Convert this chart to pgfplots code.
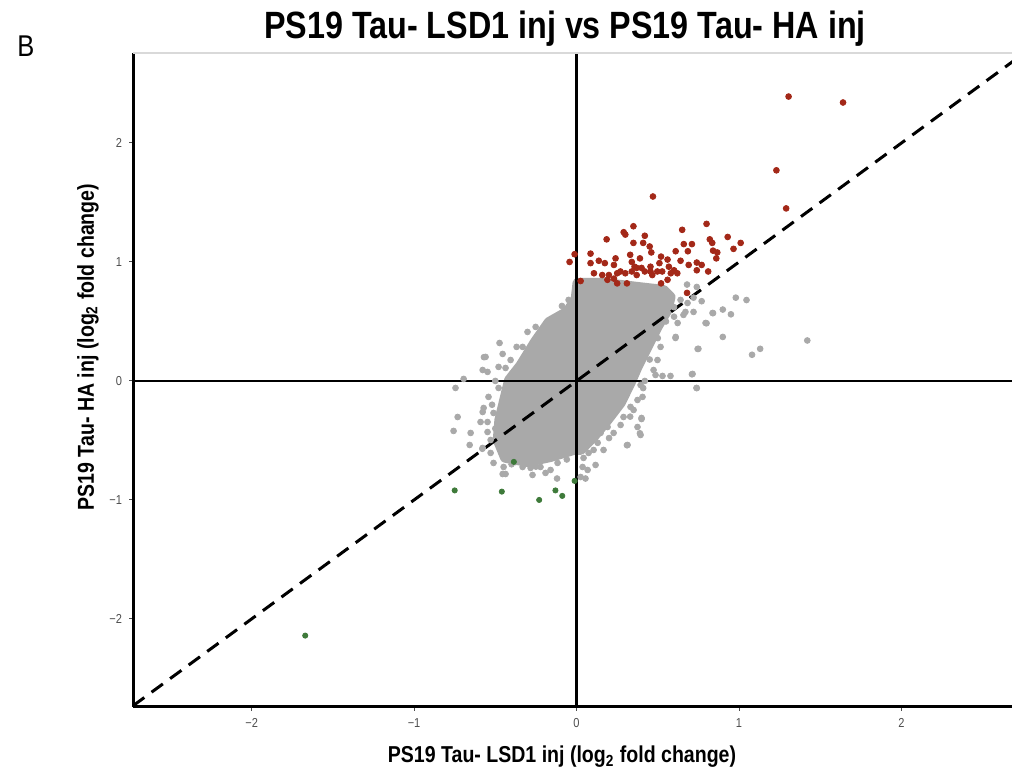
\documentclass[border=0pt]{standalone}
\usepackage{fontspec}
\setmainfont{Liberation Sans}
\newfontfamily\narrow[FakeStretch=0.85]{Liberation Sans}
\usepackage{pgfplots}
\pgfplotsset{compat=1.18}

\definecolor{ptgray}{RGB}{169,169,169}
\definecolor{ptred}{RGB}{163,40,24}
\definecolor{ptgreen}{RGB}{62,122,58}
\definecolor{ticklab}{RGB}{77,77,77}

\begin{document}
\begin{tikzpicture}
\path[use as bounding box] (0,0) rectangle (506pt,385pt);
\begin{axis}[
    at={(66.5pt,31.5pt)}, anchor=south west,
    scale only axis, width=439.5pt, height=327pt,
    xmin=-2.73, xmax=2.68, ymin=-2.74, ymax=2.756,
    axis lines*=left,
    axis line style={line width=1.5pt, black},
    xtick={-2,-1,0,1,2}, xticklabels={−2,−1,0,1,2},
    ytick={-2,-1,0,1,2}, yticklabels={−2,−1,0,1,2},
    tick align=outside, major tick length=2pt,
    tick style={ticklab, line width=0.5pt},
    ticklabel style={font=\narrow\fontsize{6.5}{7}\selectfont, text=ticklab},
    /pgf/number format/assume math mode=true,
    clip=true,
]
% dense core of the cloud
\addplot[fill=ptgray, draw=ptgray, line width=5pt, line join=round] coordinates {
  (0.006,0.824) (0.166,0.824) (0.375,0.790) (0.535,0.765) (0.578,0.706)
  (0.560,0.597) (0.498,0.454) (0.437,0.286) (0.375,0.118) (0.332,-0.017)
  (0.271,-0.185) (0.191,-0.328) (0.105,-0.471) (0.025,-0.580) (-0.018,-0.580)
  (-0.160,-0.639) (-0.302,-0.681) (-0.440,-0.645) (-0.485,-0.496)
  (-0.475,-0.328) (-0.445,-0.160) (-0.415,0.008) (-0.345,0.130)
  (-0.255,0.330) (-0.170,0.495) (-0.060,0.580) (-0.006,0.681)
} -- cycle;
% scattered genes
\addplot[only marks, mark=*, mark size=1.45pt, mark options={ptgray, line width=0.4pt}] coordinates {
  (0.98,0.70) (1.046,0.68) (0.90,0.60) (0.84,0.57) (0.95,0.56) (0.80,0.485)
  (0.90,0.37) (0.75,0.27) (1.13,0.27) (1.08,0.22) (1.42,0.34) (0.71,0.056)
  (0.74,-0.06) (0.77,0.67) (0.72,0.70) (0.67,0.58)
  (0.74,0.79) (0.68,0.81) (0.60,0.54) (0.61,0.37)
  (-0.57,0.20) (-0.58,-0.57) (-0.41,-0.66) (-0.12,-0.82) (0.055,-0.82)
  (0.31,-0.54) (0.39,-0.44) (0.40,-0.32) (0.41,-0.06)
  (-0.049,0.681) (-0.160,0.513) (-0.302,0.412) (-0.252,0.454) (-0.332,0.286)
  (-0.369,0.286) (-0.474,0.319) (-0.455,0.227) (-0.560,0.202) (-0.578,0.092)
  (-0.548,0.076) (-0.480,0.118) (-0.437,0.109) (-0.406,0.176) (-0.695,0.017)
  (-0.745,-0.059) (-0.480,-0.059) (-0.449,-0.134) (-0.542,-0.134)
  (-0.572,-0.227) (-0.578,-0.261) (-0.511,-0.269) (-0.732,-0.303)
  (-0.591,-0.345) (-0.548,-0.345) (-0.757,-0.420) (-0.652,-0.437)
  (-0.548,-0.429) (-0.529,-0.496) (-0.658,-0.538) (-0.578,-0.563)
  (-0.529,-0.605) (-0.511,-0.689) (-0.449,-0.723) (-0.375,-0.681)
  (-0.332,-0.723) (-0.283,-0.731) (-0.222,-0.723) (-0.160,-0.748)
  (-0.271,-0.790) (-0.191,-0.773) (-0.455,-0.782) (-0.437,-0.782)
  (-0.117,-0.689)
  (0.640,0.681) (0.683,0.655) (0.658,0.555) (0.622,0.487) (0.720,0.580)
  (0.794,0.487) (0.837,0.571) (0.609,0.361) (0.517,0.286) (0.745,0.269)
  (0.498,0.176) (0.474,0.092) (0.578,0.042) (0.529,0.042) (0.486,0.050)
  (0.714,0.059) (0.738,-0.059) (0.394,-0.034) (0.406,-0.134) (0.375,-0.160)
  (0.332,-0.218) (0.351,-0.244) (0.400,-0.311) (0.375,-0.387) (0.394,-0.454)
  (0.289,-0.303) (0.271,-0.370) (0.228,-0.437) (0.191,-0.387) (0.314,-0.538)
  (0.148,-0.437) (0.086,-0.496) (0.105,-0.580) (0.166,-0.580) (0.074,-0.605)
  (0.043,-0.647) (0.117,-0.706) (0.037,-0.723) (0.068,-0.748) (0.025,-0.807)
  (-0.50,0.00) (-0.52,-0.20) (-0.50,-0.40) (-0.40,-0.70) (-0.25,-0.72)
  (0.45,0.18) (0.42,0.00) (0.33,-0.30) (0.20,-0.48) (-0.20,0.40) (-0.30,0.22)
  (0.60,0.62) (0.55,0.50) (0.50,0.36) (-0.09,0.63) (-0.06,-0.66) (0.13,-0.52)
};
% up in HA
\addplot[only marks, mark=*, mark size=1.45pt, mark options={ptred, line width=0.4pt}] coordinates {
  (1.305,2.39) (1.64,2.34) (1.23,1.77) (1.29,1.45) (0.47,1.55)
  (0.80,1.32) (0.65,1.27) (0.35,1.30) (0.29,1.25) (0.30,1.23) (0.185,1.19)
  (0.42,1.22) (0.35,1.16) (0.41,1.16) (0.45,1.13) (0.66,1.15) (0.71,1.15)
  (0.82,1.19) (0.835,1.16) (0.93,1.21) (1.01,1.16) (0.966,1.11)
  (0.84,1.095) (0.866,1.08) (0.86,1.03) (0.61,1.09) (0.685,1.09)
  (0.46,1.08) (0.52,1.045) (0.086,1.07) (-0.012,1.065) (-0.043,1.00)
  (0.33,1.06) (0.39,1.03) (0.086,0.99) (0.137,1.01) (0.174,0.99) (0.24,1.03)
  (0.23,0.975) (0.34,1.00) (0.357,0.96) (0.37,0.95) (0.40,0.95)
  (0.455,0.96) (0.51,0.99) (0.56,1.02) (0.64,1.01) (0.69,0.975) (0.74,0.995)
  (0.77,0.975) (0.74,0.93) (0.81,0.92)
  (0.107,0.905) (0.158,0.89) (0.199,0.89) (0.23,0.86) (0.25,0.905) (0.27,0.92)
  (0.30,0.905) (0.34,0.92) (0.37,0.89) (0.42,0.92) (0.455,0.92) (0.466,0.89)
  (0.497,0.92) (0.527,0.92) (0.568,0.96) (0.60,0.93) (0.58,0.905) (0.62,0.905)
  (0.025,0.84) (0.19,0.85) (0.25,0.82) (0.31,0.82) (0.52,0.82) (0.56,0.85)
  (0.68,0.74)
};
% down in HA
\addplot[only marks, mark=*, mark size=1.3pt, mark options={ptgreen, line width=0.4pt}] coordinates {
  (-0.75,-0.92) (-0.46,-0.93) (-0.23,-1.00) (-0.13,-0.92) (-0.088,-0.966)
  (-0.012,-0.84) (-0.386,-0.68) (-1.67,-2.14)
};
% reference lines
\addplot[black, line width=1.2pt] coordinates {(-3,0) (3,0)};
\addplot[black, line width=1.2pt] coordinates {(0,-3) (0,3)};
\addplot[black, line width=1.5pt, dash pattern=on 7pt off 4.5pt] coordinates {(-2.73,-2.73) (2.76,2.76)};
\draw[black!15, line width=0.8pt] (rel axis cs:0,1) -- (rel axis cs:1,1);
\end{axis}
\node[font=\narrow\bfseries\fontsize{19}{22}\selectfont] at (282.5pt,370.5pt) {PS19 Tau- LSD1 inj vs PS19 Tau- HA inj};
\node[font=\narrow\fontsize{15}{17}\selectfont] at (13pt,362pt) {B};
\node[font=\narrow\bfseries\fontsize{11.5}{13}\selectfont] at (281pt,6.5pt) {PS19 Tau- LSD1 inj (log\textsubscript{2} fold change)};
\node[font=\narrow\bfseries\fontsize{11.5}{13}\selectfont, rotate=90] at (44pt,211.5pt) {PS19 Tau- HA inj (log\textsubscript{2} fold change)};
\end{tikzpicture}
\end{document}
